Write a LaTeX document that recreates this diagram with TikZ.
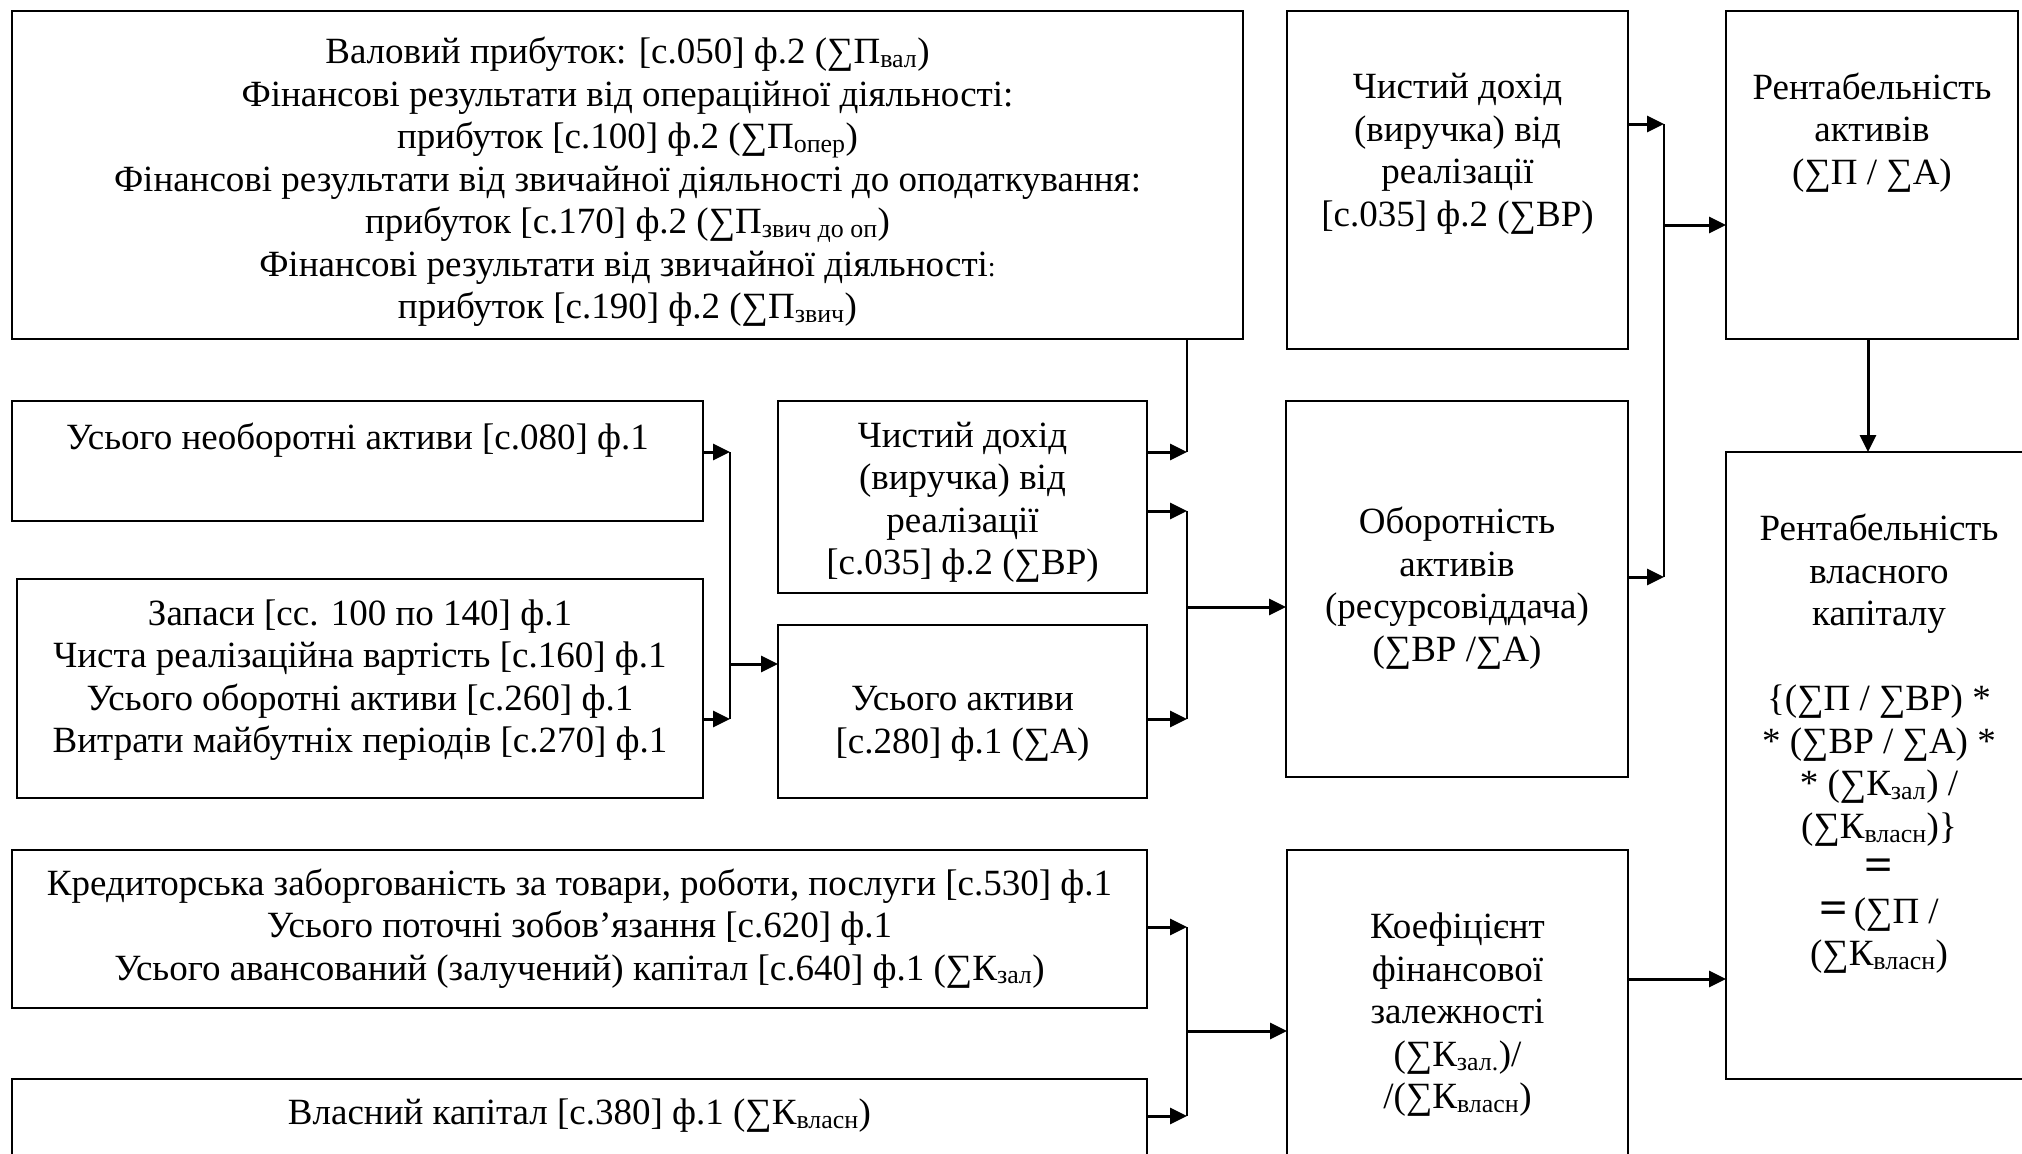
\documentclass[tikz,border=0pt]{standalone}
\usepackage{fontspec}
\usepackage{graphicx}
\setmainfont{Liberation Serif}
\usetikzlibrary{arrows.meta}
\tikzset{
  box/.style={draw, line width=1.5pt, inner sep=0pt, outer sep=0pt},
  txt/.style={align=center, inner sep=0pt, font=\fontsize{37}{42.5}\selectfont},
  arr/.style={line width=3pt, -{Triangle[length=17pt,width=16pt]}},
  bus/.style={line width=2pt},
}
\newcommand\bx[5]{\node[box, minimum width={#4-#2}, minimum height={#5-#3}] (#1) at ({(#2+#4)/2},{(#3+#5)/2}) {};}
\newcommand\sbs[1]{\textsubscript{#1}}
\newcommand\beq{\scalebox{1.35}[1.25]{\textbf{=}}}
\begin{document}
\begin{tikzpicture}[x=1pt, y=-1pt]
\useasboundingbox (0,0) rectangle (2022,1154);
% boxes
\bx{prof}{12}{11}{1243}{339}
\bx{cdA}{1287}{11}{1628}{349}
\bx{ra}{1726}{11}{2018}{339}
\bx{nea}{12}{401}{703}{521}
\bx{zap}{17}{579}{703}{798}
\bx{cdB}{778}{401}{1147}{593}
\bx{ua}{778}{625}{1147}{798}
\bx{ob}{1286}{401}{1628}{777}
\bx{rvk}{1726}{452}{2032}{1079}
\bx{kred}{12}{850}{1147}{1008}
\bx{vk}{12}{1079}{1147}{1175}
\bx{kfz}{1287}{850}{1628}{1175}
% texts
\node[txt] (tprof) at (627.5,182) {Валовий прибуток: [с.050] ф.2 (∑П\sbs{вал})\\
Фінансові результати від операційної діяльності:\\
прибуток [с.100] ф.2 (∑П\sbs{опер})\\
Фінансові результати від звичайної діяльності до оподаткування:\\
прибуток [с.170] ф.2 (∑П\sbs{звич до оп})\\
Фінансові результати від звичайної діяльності{\fontsize{28}{30}\selectfont:}\\
прибуток [с.190] ф.2 (∑П\sbs{звич})};
\node[txt] (tcdA) at (1457.5,154) {Чистий дохід\\(виручка) від\\реалізації\\{[с.035]} ф.2 (∑ВР)};
\node[txt] (tra) at (1872,132.5) {Рентабельність\\активів\\(∑П / ∑А)};
\node[txt] (tnea) at (357.5,440) {Усього необоротні активи [с.080] ф.1};
\node[txt] (tzap) at (360,680) {Запаси [сс. 100 по 140] ф.1\\
Чиста реалізаційна вартість [с.160] ф.1\\
Усього оборотні активи [с.260] ф.1\\
Витрати майбутніх періодів [с.270] ф.1};
\node[txt] (tcdB) at (962.5,502.5) {Чистий дохід\\(виручка) від\\реалізації\\{[с.035]} ф.2 (∑ВР)};
\node[txt] (tua) at (962.5,724) {Усього активи\\{[с.280]} ф.1 (∑А)};
\node[txt] (tob) at (1457,588) {Оборотність\\активів\\(ресурсовіддача)\\(∑ВР /∑А)};
\node[txt] (trvk) at (1879,744) {Рентабельність\\власного\\капіталу\\\mbox{}\\
\{(∑П / ∑ВР) *\\
* (∑ВР / ∑А) *\\
* (∑К\sbs{зал}) /\\
(∑К\sbs{власн})\}\\
\beq\\
\beq\,(∑П /\\
(∑К\sbs{власн})};
\node[txt] (tkred) at (579.5,928.5) {Кредиторська заборгованість за товари, роботи, послуги [с.530] ф.1\\
Усього поточні зобов’язання [с.620] ф.1\\
Усього авансований (залучений) капітал [с.640] ф.1 (∑К\sbs{зал})};
\node[txt] (tvk) at (579.5,1116) {Власний капітал [с.380] ф.1 (∑К\sbs{власн})};
\node[txt] (tkfz) at (1457.5,1015) {Коефіцієнт\\фінансової\\залежності\\(∑К\sbs{зал.})/\\/(∑К\sbs{власн})};
% bus coordinates
\coordinate (bR1) at (1664,124);
\coordinate (bR2) at (1664,577);
\coordinate (bRm) at (1664,225);
\coordinate (bM1) at (1187,452);
\coordinate (bM2) at (1187,511);
\coordinate (bM3) at (1187,719);
\coordinate (bMm) at (1187,607);
\coordinate (bL1) at (730,452);
\coordinate (bL2) at (730,719);
\coordinate (bLm) at (730,664);
\coordinate (bB1) at (1187,927);
\coordinate (bB2) at (1187,1116);
\coordinate (bBm) at (1187,1031);
\coordinate (kk) at (1680,979);
\coordinate (rv) at (1868,400);
% right bus
\draw[arr] (cdA.east |- bR1) -- (bR1);
\draw[arr] (ob.east |- bR2) -- (bR2);
\draw[bus] (bR1) -- (bR2);
\draw[arr] (bRm) -- (ra.west |- bRm);
\draw[arr] (ra.south -| rv) -- (rvk.north -| rv);
% middle buses
\draw[bus] (prof.south -| bM1) -- (bM1);
\draw[arr] (cdB.east |- bM1) -- (bM1);
\draw[arr] (cdB.east |- bM2) -- (bM2);
\draw[arr] (ua.east |- bM3) -- (bM3);
\draw[bus] (bM2) -- (bM3);
\draw[arr] (bMm) -- (ob.west |- bMm);
% left bus
\draw[arr] (nea.east |- bL1) -- (bL1);
\draw[arr] (zap.east |- bL2) -- (bL2);
\draw[bus] (bL1) -- (bL2);
\draw[arr] (bLm) -- (ua.west |- bLm);
% bottom bus
\draw[arr] (kred.east |- bB1) -- (bB1);
\draw[arr] (vk.east |- bB2) -- (bB2);
\draw[bus] (bB1) -- (bB2);
\draw[arr] (bBm) -- (kfz.west |- bBm);
\draw[arr] (kfz.east |- kk) -- (rvk.west |- kk);
\end{tikzpicture}
\end{document}
